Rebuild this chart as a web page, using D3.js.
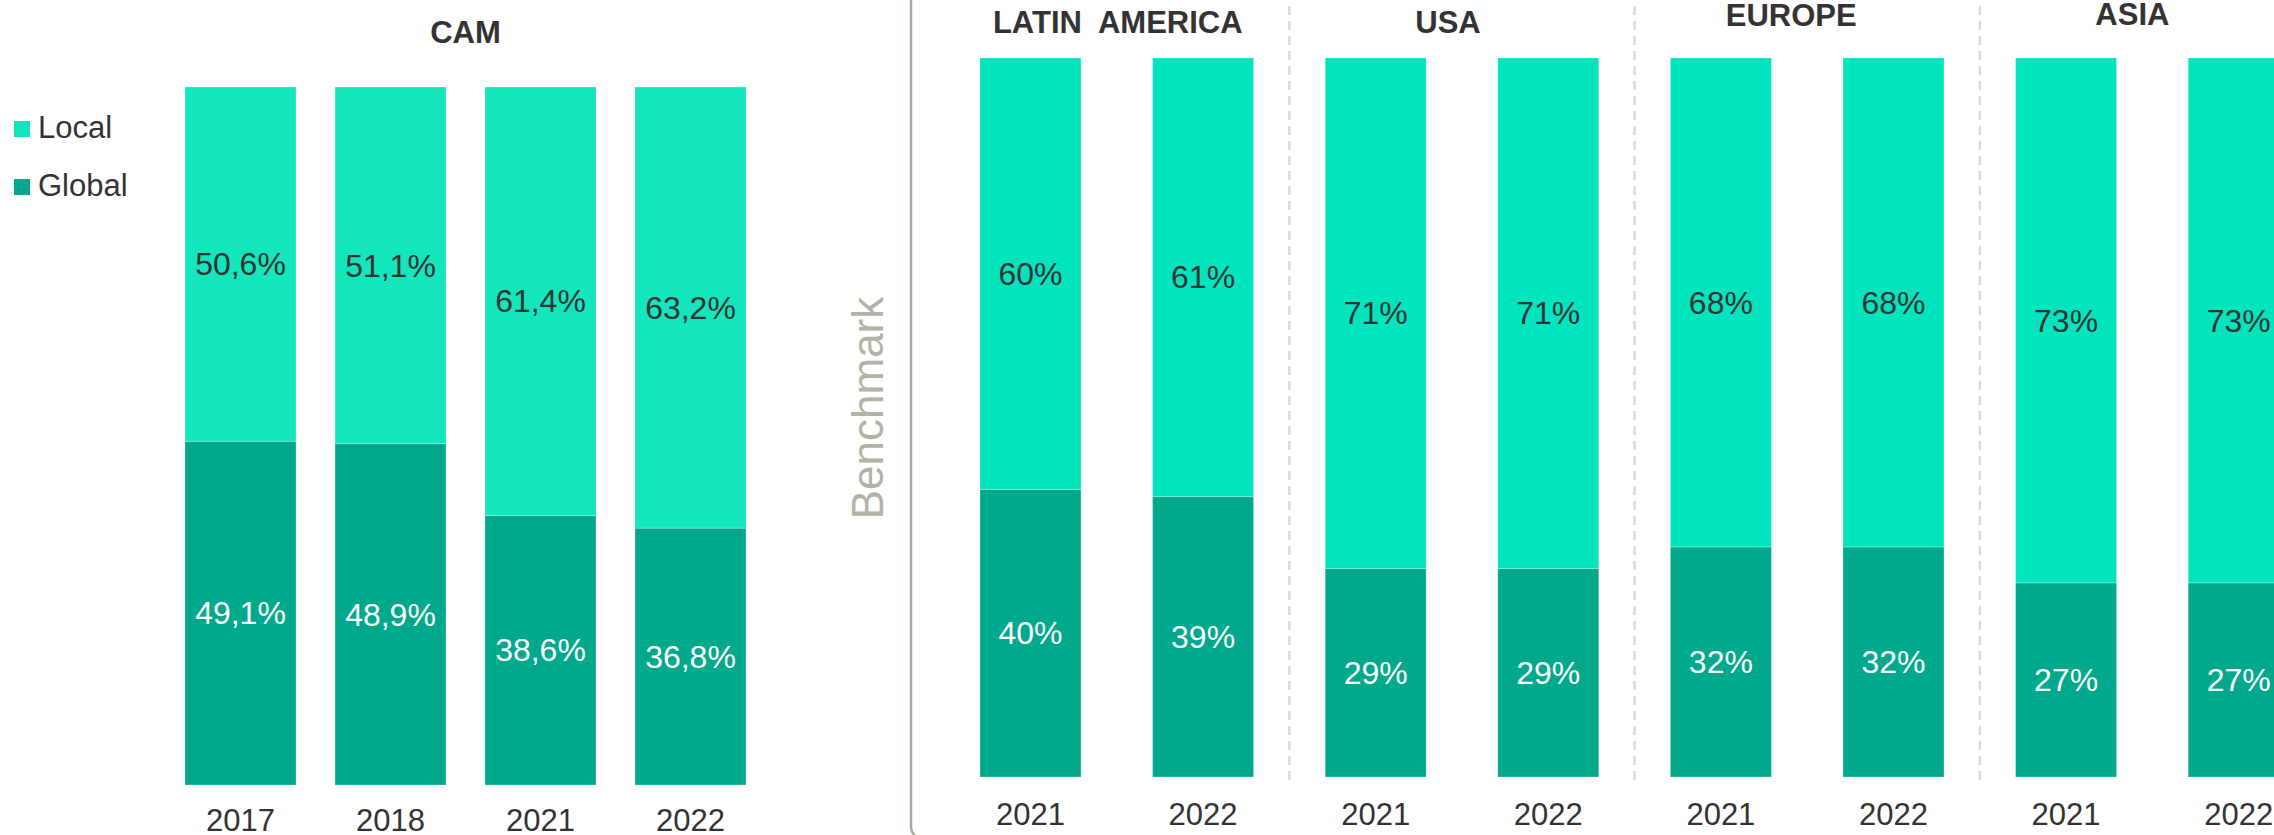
<!DOCTYPE html>
<html>
<head>
<meta charset="utf-8">
<script src="https://cdn.jsdelivr.net/npm/d3@7"></script>
<style>
  body { margin: 0; background: #fff; }
  svg { display: block; font-family: "Liberation Sans", Arial, sans-serif; }
</style>
</head>
<body>
<div id="chart"></div>
<script>
// CAM panel
var camYears = ["2017", "2018", "2021", "2022"];
var camLocal = [50.6, 51.1, 61.4, 63.2];
var camGlobal = [49.1, 48.9, 38.6, 36.8];

// Benchmark panel
var regions = ["LATIN  AMERICA", "USA", "EUROPE", "ASIA"];
var benchYears = ["2021", "2022", "2021", "2022", "2021", "2022", "2021", "2022"];
var benchRegion = [0, 0, 1, 1, 2, 2, 3, 3];
var benchLocal = [60, 61, 71, 71, 68, 68, 73, 73];
var benchGlobal = [40, 39, 29, 29, 32, 32, 27, 27];

var seriesNames = ["Local", "Global"];

// title boxes are not exactly centred in the original
var titleShift = [{ dx: 1, y: 33 }, { dx: -14, y: 33 }, { dx: -16, y: 26 }, { dx: -20, y: 25 }];

var width = 2274, height = 835;
var colGlobal = "#00a98c";
var colLocalCam = "#13e6bc";
var colLocalBench = "#00e5be";
var textDark = "#333333";

var svg = d3.select("#chart").append("svg")
  .attr("width", width).attr("height", height);

var stack = d3.stack().keys(["global", "local"]).offset(d3.stackOffsetExpand);

function commaPct(v) { return v.toFixed(1).replace(".", ",") + "%"; }
function intPct(v) { return d3.format(".0f")(v) + "%"; }

function drawPanel(opts) {
  var rows = opts.years.map(function(y, i) {
    return { key: i, year: y, global: opts.global[i], local: opts.local[i] };
  });
  var series = stack(rows);

  var x = d3.scaleBand()
    .domain(rows.map(function(d) { return d.key; }))
    .range(opts.xRange)
    .paddingInner(opts.pad)
    .paddingOuter(opts.pad / 2);
  var y = d3.scaleLinear().domain([0, 1]).range([opts.yBottom, opts.yTop]);

  var g = svg.append("g");
  var layer = g.selectAll("g.layer").data(series).enter().append("g")
    .attr("fill", function(s) { return s.key === "global" ? colGlobal : opts.localColor; });

  layer.selectAll("rect").data(function(s) { return s; }).enter().append("rect")
    .attr("x", function(d) { return x(d.data.key); })
    .attr("width", x.bandwidth())
    .attr("y", function(d) { return y(d[1]); })
    .attr("height", function(d) { return y(d[0]) - y(d[1]); })
    .attr("stroke", "rgba(255,255,255,0.25)")
    .attr("stroke-width", 1);

  series.forEach(function(s) {
    g.selectAll(null).data(s).enter().append("text")
      .attr("x", function(d) { return x(d.data.key) + x.bandwidth() / 2; })
      .attr("y", function(d) { return (y(d[0]) + y(d[1])) / 2; })
      .attr("dy", "0.35em")
      .attr("text-anchor", "middle")
      .attr("font-size", 32)
      .attr("fill", s.key === "global" ? "#ffffff" : textDark)
      .text(function(d) { return opts.fmt(d.data[s.key]); });
  });

  // year axis (no line, no ticks)
  var axis = g.append("g")
    .attr("transform", "translate(0," + opts.yearBase + ")")
    .call(d3.axisBottom(x).tickSize(0).tickPadding(0)
      .tickFormat(function(k) { return opts.years[k]; }));
  axis.select(".domain").remove();
  axis.selectAll("text")
    .attr("y", 0).attr("dy", 0)
    .attr("font-size", 31)
    .attr("font-family", "Liberation Sans, Arial, sans-serif")
    .attr("fill", textDark);

  return x;
}

// ---- CAM ----
var xCam = drawPanel({
  years: camYears, local: camLocal, global: camGlobal,
  xRange: [165.5, 765.5], pad: 0.26,
  yTop: 87, yBottom: 785, yearBase: 831,
  localColor: colLocalCam, fmt: commaPct
});

svg.append("text")
  .attr("x", (xCam(0) + xCam(3) + xCam.bandwidth()) / 2)
  .attr("y", 43)
  .attr("text-anchor", "middle")
  .attr("font-size", 31).attr("font-weight", "bold")
  .attr("fill", textDark)
  .text("CAM");

// legend
var legend = svg.append("g");
seriesNames.forEach(function(name, i) {
  legend.append("rect")
    .attr("x", 14).attr("y", 121 + i * 58)
    .attr("width", 16).attr("height", 16)
    .attr("fill", name === "Local" ? colLocalCam : colGlobal);
  legend.append("text")
    .attr("x", 38).attr("y", 138 + i * 58)
    .attr("font-size", 31).attr("fill", textDark)
    .text(name);
});

// ---- divider + Benchmark label ----
svg.append("path")
  .attr("d", "M911,0 V826 Q911,833 915,835")
  .attr("fill", "none")
  .attr("stroke", "#aaaa9b")
  .attr("stroke-width", 2.5);

svg.append("text")
  .attr("transform", "translate(883,408) rotate(-90)")
  .attr("text-anchor", "middle")
  .attr("font-size", 44)
  .attr("fill", "#b3b3a5")
  .text("Benchmark");

// ---- Benchmark ----
var step = 172.6, bpad = 0.415;
var bx0 = 980 - step * bpad / 2;
var xBench = drawPanel({
  years: benchYears, local: benchLocal, global: benchGlobal,
  xRange: [bx0, bx0 + step * benchYears.length], pad: bpad,
  yTop: 58, yBottom: 777, yearBase: 825,
  localColor: colLocalBench, fmt: intPct
});

// region titles and dashed separators
regions.forEach(function(r, ri) {
  var idx = benchRegion.map(function(v, i) { return v === ri ? i : -1; })
    .filter(function(i) { return i >= 0; });
  var left = xBench(idx[0]);
  var right = xBench(idx[idx.length - 1]) + xBench.bandwidth();
  svg.append("text")
    .attr("x", (left + right) / 2 + titleShift[ri].dx)
    .attr("y", titleShift[ri].y)
    .attr("text-anchor", "middle")
    .attr("font-size", 31).attr("font-weight", "bold")
    .attr("fill", textDark)
    .attr("xml:space", "preserve")
    .style("white-space", "pre")
    .text(r);
  if (ri > 0) {
    var sx = (xBench(idx[0] - 1) + xBench.bandwidth() + left) / 2;
    svg.append("line")
      .attr("x1", sx).attr("x2", sx)
      .attr("y1", 6).attr("y2", 780)
      .attr("stroke", "#dcdcd4")
      .attr("stroke-width", 2.5)
      .attr("stroke-dasharray", "9,6");
  }
});
</script>
</body>
</html>
